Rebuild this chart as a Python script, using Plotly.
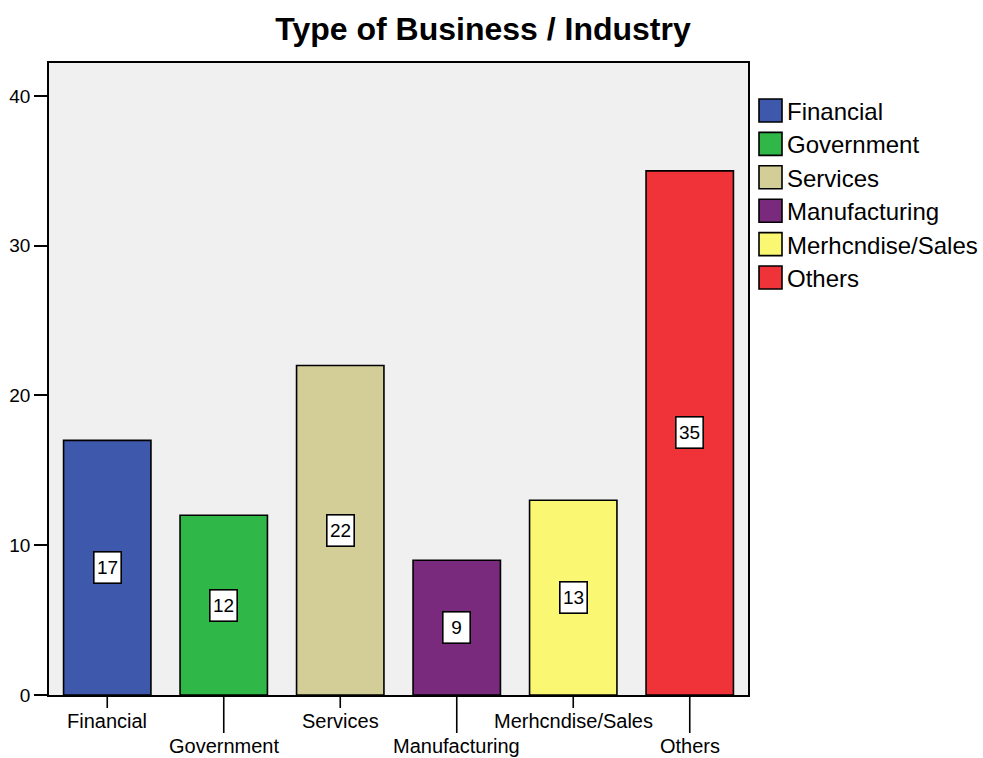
import plotly.graph_objects as go

categories = ["Financial", "Government", "Services", "Manufacturing", "Merhcndise/Sales", "Others"]
counts = [17, 12, 22, 9, 13, 35]
colors = ["#3e58ac", "#2fb847", "#d3ce97", "#7a2a7c", "#faf773", "#f03338"]
y_ticks = [0, 10, 20, 30, 40]

FONT = "Liberation Sans, Arial, sans-serif"
W, H = 983, 758
L, R, T, B = 49, 235, 63, 63

fig = go.Figure()

for cat, val, col in zip(categories, counts, colors):
    fig.add_trace(go.Bar(
        x=[cat], y=[val], width=0.75,
        marker=dict(color=col, line=dict(color="black", width=1.6)),
        showlegend=False, hoverinfo="x+y",
    ))

annotations = []
shapes = []

# boxed value labels at half bar height
for cat, val in zip(categories, counts):
    annotations.append(dict(
        x=cat, y=val / 2, xref="x", yref="y", text=str(val), showarrow=False,
        font=dict(family=FONT, size=19, color="black"),
        width=24, height=28,
        bgcolor="white", bordercolor="black", borderwidth=1.6, borderpad=1,
    ))

# staggered category labels with matching tick marks
for i, cat in enumerate(categories):
    low = i % 2 == 1
    shapes.append(dict(
        type="line", xref="x", yref="paper", x0=cat, x1=cat,
        ysizemode="pixel", yanchor=0, y0=0, y1=-38 if low else -13,
        line=dict(color="black", width=1.6),
    ))
    annotations.append(dict(
        x=cat, y=0, xref="x", yref="paper", text=cat, showarrow=False,
        yanchor="middle", yshift=-51 if low else -26,
        font=dict(family=FONT, size=20, color="black"),
    ))

# legend drawn as swatches beside the plot
plot_h = H - T - B
for i, (cat, col) in enumerate(zip(categories, colors)):
    cy = 110.5 + i * 33.4
    y_top = 1 - (cy - 11.5 - T) / plot_h
    y_bot = 1 - (cy + 11.5 - T) / plot_h
    shapes.append(dict(
        type="rect", xref="paper", yref="paper",
        xsizemode="pixel", xanchor=1, x0=11, x1=34,
        y0=y_bot, y1=y_top, fillcolor=col, line=dict(color="black", width=1.6),
    ))
    annotations.append(dict(
        x=1, y=1 - (cy + 1 - T) / plot_h, xref="paper", yref="paper", xshift=37,
        text=cat, showarrow=False, xanchor="left", yanchor="middle",
        font=dict(family=FONT, size=24, color="black"),
    ))

fig.update_layout(
    width=W, height=H,
    margin=dict(l=L, r=R, t=T, b=B),
    paper_bgcolor="white", plot_bgcolor="#f0f0f0",
    barmode="overlay",
    title=dict(text="<b>Type of Business / Industry</b>", x=483 / W, xanchor="center",
               y=1 - 29 / H, yanchor="middle",
               font=dict(family=FONT, size=32, color="black")),
    xaxis=dict(range=[-0.5, 5.5], showticklabels=False, ticks="", automargin=False,
               showline=True, linecolor="black", linewidth=1.6, mirror=True,
               showgrid=False, zeroline=False),
    yaxis=dict(range=[0, 42.2], tickvals=y_ticks, ticks="outside", ticklen=13,
               tickwidth=1.6, tickcolor="black", automargin=False,
               tickfont=dict(family=FONT, size=19, color="black"),
               showline=True, linecolor="black", linewidth=1.6, mirror=True,
               showgrid=False, zeroline=False),
    annotations=annotations, shapes=shapes,
)

fig.write_html("out.html")
